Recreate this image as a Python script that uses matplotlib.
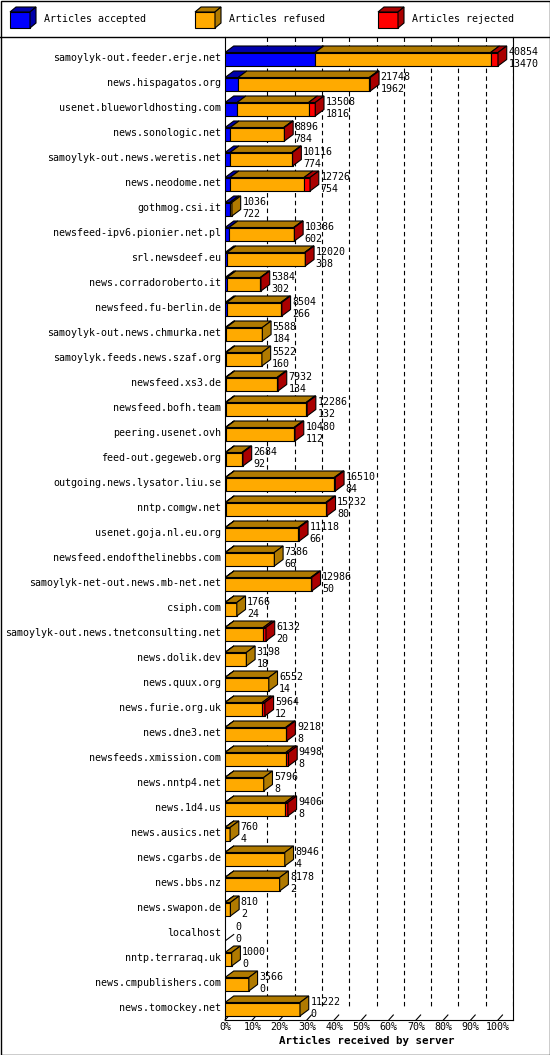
import matplotlib
matplotlib.use("Agg")
import matplotlib.pyplot as plt
from matplotlib.patches import Rectangle, Polygon

servers = ["samoylyk-out.feeder.erje.net","news.hispagatos.org","usenet.blueworldhosting.com",
"news.sonologic.net","samoylyk-out.news.weretis.net","news.neodome.net","gothmog.csi.it",
"newsfeed-ipv6.pionier.net.pl","srl.newsdeef.eu","news.corradoroberto.it","newsfeed.fu-berlin.de",
"samoylyk-out.news.chmurka.net","samoylyk.feeds.news.szaf.org","newsfeed.xs3.de","newsfeed.bofh.team",
"peering.usenet.ovh","feed-out.gegeweb.org","outgoing.news.lysator.liu.se","nntp.comgw.net",
"usenet.goja.nl.eu.org","newsfeed.endofthelinebbs.com","samoylyk-net-out.news.mb-net.net","csiph.com",
"samoylyk-out.news.tnetconsulting.net","news.dolik.dev","news.quux.org","news.furie.org.uk",
"news.dne3.net","newsfeeds.xmission.com","news.nntp4.net","news.1d4.us","news.ausics.net",
"news.cgarbs.de","news.bbs.nz","news.swapon.de","localhost","nntp.terraraq.uk",
"news.cmpublishers.com","news.tomockey.net"]
offered = [40854,21748,13508,8896,10116,12726,1036,10386,12020,5384,8504,5588,5522,7932,12286,10480,
2684,16510,15232,11118,7386,12986,1766,6132,3198,6552,5964,9218,9498,5796,9406,760,8946,8178,810,0,1000,3566,11222]
accepted = [13470,1962,1816,784,774,754,722,602,308,302,266,184,160,134,132,112,92,84,80,66,66,50,24,20,
18,14,12,8,8,8,8,4,4,2,2,0,0,0,0]
rejected = [1100,150,1000,100,100,900,0,100,100,100,150,0,0,150,150,150,150,150,150,150,0,150,0,400,
0,0,400,150,400,0,400,0,0,0,0,0,0,0,0]
refused = [40854-13470-1100,21748-1962-150,13508-1816-1000,8896-784-100,10116-774-100,12726-754-900,
1036-722,10386-602-100,12020-308-100,5384-302-100,8504-266-150,5588-184,5522-160,7932-134-150,
12286-132-150,10480-112-150,2684-92-150,16510-84-150,15232-80-150,11118-66-150,7386-66,12986-50-150,
1766-24,6132-20-400,3198-18,6552-14,5964-12-400,9218-8-150,9498-8-400,5796-8,9406-8-400,760-4,
8946-4,8178-2,810-2,0,1000,3566,11222]
ticks = [0,10,20,30,40,50,60,70,80,90,100]

W, H = 550, 1055
fig = plt.figure(figsize=(W/100, H/100), dpi=100)
mono = "DejaVu Sans Mono"
fs = 7.2
ax = fig.add_axes([225/W, (H-1020)/H, (513-225)/W, (1020-37)/H])
ax.set_xlim(0, 105.5)
ax.set_ylim(38.48, -0.84)
for s in ["top","bottom"]:
    ax.spines[s].set_visible(False)
ax.set_xticks([]); ax.set_yticks([])

dx, dy, h = 3.2, 0.26, 0.54
gxo = 5.5
for t in ticks[1:]:
    ax.plot([t+gxo, t+gxo], [-0.84, 38.48-0.45], ls=(0,(4,3)), color="black", lw=0.8, zorder=0)

cols = [("#0000FF", "#0000AA"), ("#FFAA00", "#B07A00"), ("#FF0000", "#AA0000")]
mx = max(offered)
for i, name in enumerate(servers):
    y = i + 0.05
    x0 = 0.0
    last = None
    for val, (fc, dc) in zip([accepted[i], refused[i], rejected[i]], cols):
        if val <= 0:
            continue
        w = val / mx * 100
        x1 = x0 + w
        ax.add_patch(Rectangle((x0, y-h/2), w, h, fc=fc, ec="black", lw=0.8, zorder=3))
        ax.add_patch(Polygon([(x0, y-h/2), (x0+dx, y-h/2-dy), (x1+dx, y-h/2-dy), (x1, y-h/2)],
                             closed=True, fc=dc, ec="black", lw=0.8, zorder=3))
        x0 = x1
        last = dc
    if last is not None:
        ax.add_patch(Polygon([(x0, y-h/2), (x0+dx, y-h/2-dy), (x0+dx, y+h/2-dy), (x0, y+h/2)],
                             closed=True, fc=last, ec="black", lw=0.8, zorder=3))
    else:
        ax.plot([0, dx], [y+h/2, y+h/2-dy], color="black", lw=0.8)
    tx = x0 + dx + 0.6
    ax.text(tx, i-0.25, str(offered[i]), fontsize=fs, family=mono, va="center", ha="left", zorder=4)
    ax.text(tx, i+0.25, str(accepted[i]), fontsize=fs, family=mono, va="center", ha="left", zorder=4)
    ax.text(-1.5, i, name, fontsize=fs, family=mono, va="center", ha="right")

# floor
ax.plot([0, 105.5], [38.48, 38.48], color="black", lw=0.8, clip_on=False)
for t in ticks:
    ax.plot([t, t+gxo*0.3], [38.48, 38.48-0.2], color="black", lw=0.8, clip_on=False)
    ax.text(t, 38.48+0.3, f"{t}%", fontsize=fs, family=mono, ha="center", va="center")
ax.text(52, 38.48+0.85, "Articles received by server", fontsize=7.8, family=mono,
        weight="bold", ha="center", va="center")

# figure border and legend
fig.add_artist(Rectangle((0.5/W, 0.5/H), 1-1/W, 1-1/H, transform=fig.transFigure,
                         fill=False, ec="black", lw=1))
fig.add_artist(plt.Line2D([0, 1], [1-37/H, 1-37/H], transform=fig.transFigure, color="black", lw=1))
labels = ["Articles accepted", "Articles refused", "Articles rejected"]
for (bx, (fc, dc), lab) in zip([10, 195, 378], cols, labels):
    fx = lambda p: p/W
    fy = lambda p: 1-p/H
    fig.add_artist(Polygon([(fx(bx), fy(28)), (fx(bx+20), fy(28)), (fx(bx+20), fy(12)), (fx(bx), fy(12))],
                           closed=True, transform=fig.transFigure, fc=fc, ec="black", lw=0.8))
    fig.add_artist(Polygon([(fx(bx), fy(12)), (fx(bx+6), fy(7)), (fx(bx+26), fy(7)), (fx(bx+20), fy(12))],
                           closed=True, transform=fig.transFigure, fc=dc, ec="black", lw=0.8))
    fig.add_artist(Polygon([(fx(bx+20), fy(12)), (fx(bx+26), fy(7)), (fx(bx+26), fy(23)), (fx(bx+20), fy(28))],
                           closed=True, transform=fig.transFigure, fc=dc, ec="black", lw=0.8))
    fig.text(fx(bx+34), fy(19), lab, fontsize=fs, family=mono, va="center", ha="left")

fig.savefig("out.png", dpi=100)
